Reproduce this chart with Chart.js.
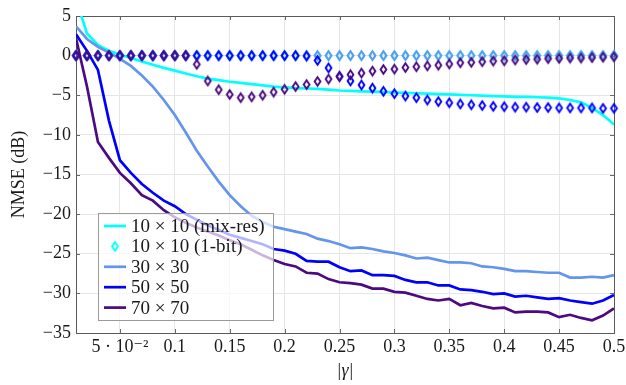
<!DOCTYPE html>
<html>
<head>
<meta charset="utf-8">
<script src="https://cdn.jsdelivr.net/npm/chart.js@4.4.1/dist/chart.umd.min.js"></script>
<style>
  html, body { margin: 0; padding: 0; background: #ffffff; }
  #wrap { width: 626px; height: 385px; }
</style>
</head>
<body>
<div id="wrap"><canvas id="c" width="626" height="385"></canvas></div>
<script>
// |gamma| sample points
const gamma = [0.01, 0.02, 0.03, 0.04, 0.05, 0.06, 0.07, 0.08, 0.09, 0.10,
               0.11, 0.12, 0.13, 0.14, 0.15, 0.16, 0.17, 0.18, 0.19, 0.20,
               0.21, 0.22, 0.23, 0.24, 0.25, 0.26, 0.27, 0.28, 0.29, 0.30,
               0.31, 0.32, 0.33, 0.34, 0.35, 0.36, 0.37, 0.38, 0.39, 0.40,
               0.41, 0.42, 0.43, 0.44, 0.45, 0.46, 0.47, 0.48, 0.49, 0.50];

// NMSE (dB), mixed-resolution receivers
const mixRes10 = [7.1, 2.8, 1.35, 0.6, 0.15, -0.3, -0.75, -1.15, -1.55, -1.9,
                  -2.25, -2.6, -2.9, -3.1, -3.3, -3.45, -3.6, -3.75, -3.9, -4.0,
                  -4.1, -4.15, -4.2, -4.3, -4.4, -4.45, -4.5, -4.55, -4.6, -4.65,
                  -4.7, -4.75, -4.8, -4.85, -4.9, -4.95, -5.0, -5.05, -5.1, -5.15,
                  -5.2, -5.2, -5.25, -5.3, -5.4, -5.6, -5.9, -6.6, -7.5, -8.7];
const mixRes30 = [3.7, 2.1, 1.1, 0.4, -0.4, -1.3, -2.5, -3.9, -5.6, -7.5,
                  -9.7, -12.0, -14.0, -15.9, -17.6, -19.0, -20.2, -21.0, -21.6, -21.9,
                  -22.2, -22.5, -23.1, -23.4, -23.8, -24.3, -24.2, -24.4, -24.7, -24.9,
                  -25.2, -25.6, -25.5, -25.8, -26.1, -26.1, -26.2, -26.6, -26.7, -26.9,
                  -27.2, -27.2, -27.3, -27.4, -27.4, -28.0, -28.0, -27.9, -28.0, -27.7];
const mixRes50 = [2.7, 0.6, -1.8, -8.2, -13.2, -14.8, -16.2, -17.3, -18.3, -19.0,
                  -20.0, -20.7, -21.4, -22.0, -22.6, -23.0, -23.4, -23.8, -24.4, -24.6,
                  -25.0, -25.9, -26.0, -26.0, -26.7, -27.2, -27.1, -27.7, -27.7, -27.8,
                  -28.3, -28.6, -28.6, -29.0, -29.0, -29.5, -29.6, -29.8, -30.1, -30.0,
                  -30.4, -30.3, -30.5, -30.7, -30.6, -30.9, -31.1, -31.3, -30.9, -30.2];
const mixRes70 = [2.2, -3.9, -10.9, -12.9, -14.8, -16.1, -17.6, -18.3, -19.5, -20.4,
                  -21.1, -21.7, -22.2, -22.7, -23.3, -23.8, -24.5, -25.2, -25.8, -26.3,
                  -26.6, -27.4, -27.5, -28.2, -28.6, -28.7, -28.9, -29.4, -29.4, -29.8,
                  -29.9, -30.3, -30.7, -30.9, -30.7, -31.5, -31.2, -31.6, -31.9, -31.8,
                  -32.4, -32.3, -32.3, -32.4, -33.0, -32.7, -33.1, -33.4, -32.8, -31.9];

// NMSE (dB), 1-bit receivers
const oneBit10 = [0, 0, 0, 0, 0, 0, 0, 0, 0, 0,
                  0, 0, 0, 0, 0, 0, 0, 0, 0, 0,
                  0, 0, 0, 0, 0, 0, 0, 0, 0, 0,
                  0, 0, 0, 0, 0, 0, 0, 0, 0, 0,
                  0, 0, 0, 0, 0, 0, 0, 0, 0, 0];
const oneBit30 = [0, 0, 0, 0, 0, 0, 0, 0, 0, 0,
                  0, 0, 0, 0, 0, 0, 0, 0, 0, 0,
                  0, 0, 0, 0, 0, 0, 0, 0, 0, 0,
                  0, 0, 0, 0, 0, 0, 0, 0, 0, 0,
                  0, 0, 0, 0, 0, 0, 0, 0, 0, 0];
const oneBit50 = [0, 0, 0, 0, 0, 0, 0, 0, 0, 0,
                  0, 0, 0, 0, 0, 0, 0, 0, 0, 0,
                  0, -0.05, -0.6, -1.55, -2.6, -3.2, -3.7, -4.1, -4.5, -4.8,
                  -5.1, -5.3, -5.6, -5.8, -5.95, -6.1, -6.2, -6.3, -6.4, -6.45,
                  -6.5, -6.5, -6.55, -6.55, -6.6, -6.6, -6.6, -6.6, -6.65, -6.65];
const oneBit70 = [0, 0, 0, 0, 0, 0, 0, 0, 0, 0,
                  0, -1.1, -3.2, -4.3, -4.9, -5.3, -5.2, -5.0, -4.6, -4.25,
                  -3.9, -3.65, -3.25, -2.95, -2.65, -2.4, -2.2, -1.95, -1.75, -1.7,
                  -1.5, -1.4, -1.3, -1.2, -1.05, -0.9, -0.85, -0.77, -0.68, -0.65,
                  -0.55, -0.5, -0.45, -0.38, -0.35, -0.3, -0.3, -0.25, -0.2, -0.15];

// axis ticks
const xTickValues = [0.05, 0.1, 0.15, 0.2, 0.25, 0.3, 0.35, 0.4, 0.45, 0.5];
const xTickLabels = ['5 · 10⁻²', '0.1', '0.15', '0.2', '0.25', '0.3', '0.35', '0.4', '0.45', '0.5'];
const yTickValues = [5, 0, -5, -10, -15, -20, -25, -30, -35];

const FONT = '"Liberation Serif", "DejaVu Serif", serif';
const TEXT = '#1a1a1a';
const CYAN = '#00ffff';
const LIGHTBLUE = '#6495ed';
const BLUE = '#0000ff';
const INDIGO = '#4b0a82';

// outlined diamond marker (taller than wide)
function diamond(color) {
  const c = document.createElement('canvas');
  c.width = 11; c.height = 13;
  const g = c.getContext('2d');
  g.strokeStyle = color;
  g.lineWidth = 1.9;
  g.lineJoin = 'miter';
  g.beginPath();
  g.moveTo(5.5, 2.2);
  g.lineTo(8.4, 6.5);
  g.lineTo(5.5, 10.8);
  g.lineTo(2.6, 6.5);
  g.closePath();
  g.stroke();
  return c;
}

const pts = arr => gamma.map((g, i) => ({ x: g, y: arr[i] }));

function lineSet(label, values, color, inLegend) {
  return {
    label, data: pts(values), borderColor: color, backgroundColor: color,
    borderWidth: 2.7, pointRadius: 0, tension: 0, fill: false,
    clip: 0, inLegend
  };
}
function markSet(label, values, color, inLegend) {
  return {
    label, data: pts(values), borderColor: color, backgroundColor: color,
    showLine: false, pointStyle: diamond(color), pointRadius: 5,
    clip: false, inLegend
  };
}

const datasets = [
  lineSet('10 × 10 (mix-res)', mixRes10, CYAN, true),
  markSet('10 × 10 (1-bit)', oneBit10, CYAN, true),
  lineSet('30 × 30', mixRes30, LIGHTBLUE, true),
  markSet('30 × 30 (1-bit)', oneBit30, LIGHTBLUE, false),
  lineSet('50 × 50', mixRes50, BLUE, true),
  markSet('50 × 50 (1-bit)', oneBit50, BLUE, false),
  lineSet('70 × 70', mixRes70, INDIGO, true),
  markSet('70 × 70 (1-bit)', oneBit70, INDIGO, false)
];
// later series are painted over earlier ones
datasets.forEach((d, i) => { d.order = datasets.length - i; });

// box frame with inward tick marks on all four sides
const framePlugin = {
  id: 'frame',
  beforeDatasetsDraw(chart) {
    const { ctx, chartArea: a, scales } = chart;
    ctx.save();
    ctx.strokeStyle = '#6a6a6a';
    ctx.lineWidth = 1;
    ctx.beginPath();
    xTickValues.forEach(v => {
      const x = Math.round(scales.x.getPixelForValue(v)) + 0.5;
      ctx.moveTo(x, a.bottom); ctx.lineTo(x, a.bottom - 4);
      ctx.moveTo(x, a.top); ctx.lineTo(x, a.top + 4);
    });
    yTickValues.forEach(v => {
      const y = Math.round(scales.y.getPixelForValue(v)) + 0.5;
      ctx.moveTo(a.left, y); ctx.lineTo(a.left + 4, y);
      ctx.moveTo(a.right, y); ctx.lineTo(a.right - 4, y);
    });
    ctx.stroke();
    ctx.strokeStyle = '#5a5a5a';
    ctx.strokeRect(Math.round(a.left) + 0.5, Math.round(a.top) + 0.5,
                   Math.round(a.right - a.left), Math.round(a.bottom - a.top));
    ctx.restore();
  }
};

// legend box inside the plot, lower left, semi-transparent
const insetLegend = {
  id: 'insetLegend',
  afterDatasetsDraw(chart) {
    const { ctx, chartArea: a } = chart;
    const items = chart.data.datasets.filter(d => d.inLegend);
    ctx.save();
    ctx.font = '19px ' + FONT;
    const rowH = 20.4;
    const textW = Math.max(...items.map(d => ctx.measureText(d.label).width));
    const w = Math.round(33 + textW + 8);
    const h = Math.round(25.6 + (items.length - 1) * rowH);
    const left = Math.round(a.left + 21.5);
    const top = Math.round(a.bottom - 13.5 - h);
    ctx.fillStyle = 'rgba(255,255,255,0.7)';
    ctx.fillRect(left, top, w, h);
    ctx.strokeStyle = '#9a9a9a';
    ctx.lineWidth = 1;
    ctx.strokeRect(left + 0.5, top + 0.5, w, h);
    items.forEach((d, i) => {
      const cy = top + 13 + i * rowH;
      if (d.showLine === false) {
        const img = d.pointStyle;
        ctx.drawImage(img, left + 17 - img.width / 2, cy - img.height / 2);
      } else {
        ctx.strokeStyle = d.borderColor;
        ctx.lineWidth = d.borderWidth;
        ctx.beginPath();
        ctx.moveTo(left + 6, cy);
        ctx.lineTo(left + 28, cy);
        ctx.stroke();
      }
      ctx.fillStyle = TEXT;
      ctx.textBaseline = 'middle';
      ctx.textAlign = 'left';
      ctx.fillText(d.label, left + 33, cy + 1);
    });
    ctx.restore();
  }
};

new Chart(document.getElementById('c'), {
  type: 'line',
  data: { datasets },
  options: {
    responsive: false,
    animation: false,
    events: [],
    layout: { padding: { left: 0, right: 12, top: 16, bottom: 0 } },
    plugins: { legend: { display: false }, tooltip: { enabled: false } },
    scales: {
      x: {
        type: 'linear', min: 0.01, max: 0.5,
        afterBuildTicks: s => { s.ticks = xTickValues.map(v => ({ value: v })); },
        afterFit: s => { s.height = 52; s.paddingLeft = 0; s.paddingRight = 0; },
        grid: { color: '#e6e6e6', drawTicks: false },
        border: { display: false },
        ticks: {
          font: { family: FONT, size: 18 }, color: TEXT, padding: 3,
          maxRotation: 0, autoSkip: false,
          callback: v => xTickLabels[xTickValues.indexOf(v)] ?? ''
        },
        title: {
          display: true, text: '|γ|', color: TEXT,
          font: { family: FONT, size: 18, style: 'italic' },
          padding: { top: 0, bottom: 3 }
        }
      },
      y: {
        type: 'linear', min: -35, max: 5,
        afterBuildTicks: s => { s.ticks = yTickValues.map(v => ({ value: v })); },
        afterFit: s => { s.width = 76; s.paddingTop = 0; s.paddingBottom = 0; },
        grid: { color: '#e6e6e6', drawTicks: false },
        border: { display: false },
        ticks: {
          font: { family: FONT, size: 18 }, color: TEXT, padding: 5,
          callback: v => String(v).replace('-', '−')
        },
        title: {
          display: true, text: 'NMSE (dB)', color: TEXT,
          font: { family: FONT, size: 18 },
          padding: { top: 8, bottom: 0 }
        }
      }
    }
  },
  plugins: [framePlugin, insetLegend]
});
</script>
</body>
</html>
